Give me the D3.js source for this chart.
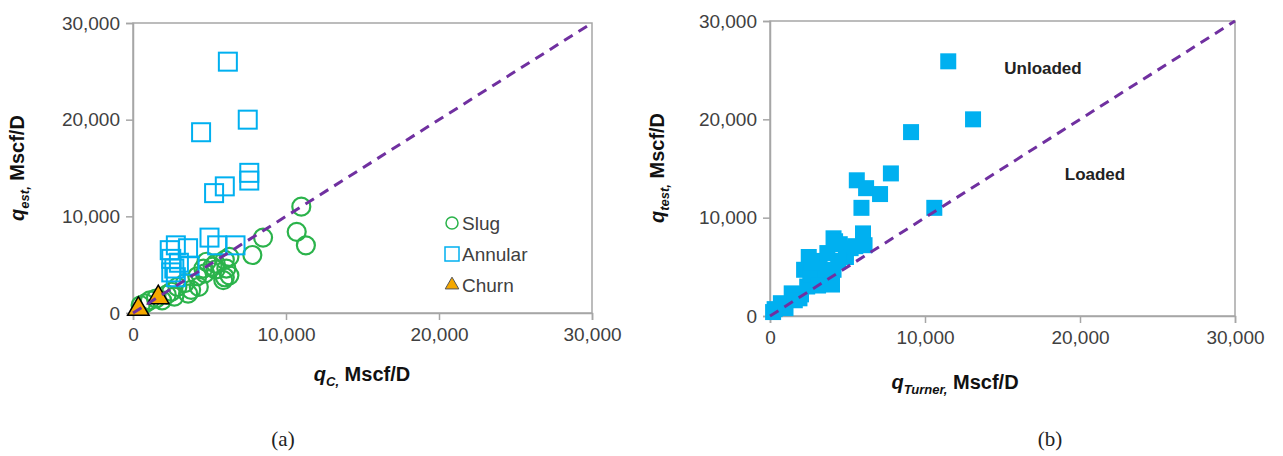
<!DOCTYPE html>
<html>
<head>
<meta charset="utf-8">
<script src="https://cdn.jsdelivr.net/npm/d3@7"></script>
<style>
  body { margin: 0; background: #fff; }
  svg text { font-family: "Liberation Sans", Arial, sans-serif; }
</style>
</head>
<body>
<div id="chart"></div>
<script>
// ---- data (Mscf/D) ----
var tickValues = [0, 10000, 20000, 30000];

// panel (a): q_C vs q_est by flow regime
var slugQc   = [11000, 10700, 11300, 8500, 7800, 6300, 6300, 5900, 6100, 6000, 5400, 4600, 4200, 3600, 3400, 2900, 2200, 1100, 500, 5400, 4800, 6000, 4300, 3800, 2700, 1900, 800, 4700, 5200, 2500, 1500];
var slugQest = [11000, 8400, 7000, 7800, 6000, 5800, 3900, 3400, 4600, 3700, 4500, 4600, 3800, 2000, 3100, 2700, 1900, 1300, 800, 5100, 5300, 5500, 2700, 2400, 1700, 1300, 1000, 4100, 4800, 2200, 1500];

var annularQc   = [6200, 4450, 7500, 7600, 7600, 6000, 5300, 2400, 2800, 3600, 2500, 2700, 3700, 2800, 2500, 5000, 5500, 6700, 3000];
var annularQest = [26000, 18700, 20000, 14500, 13700, 13100, 12400, 6500, 7000, 6700, 5600, 4600, 4900, 3700, 4200, 7800, 7000, 7000, 5200];

var churnQc   = [350, 1650];
var churnQest = [400, 1600];

// panel (b): q_Turner vs q_test
var turnerQ = [11500, 9100, 13100, 7800, 5600, 6200, 7100, 5900, 10600, 6000, 6100, 4100, 4500, 5200, 4900, 2500, 3200, 2200, 4100, 3200, 4000, 2400, 2800, 1400, 1900, 700, 200, 1000, 3000, 2600, 3600, 3100, 2000, 4200, 5500, 2700, 3700, 4400, 300, 1600];
var testQ   = [25900, 18700, 20000, 14500, 13800, 13000, 12400, 11000, 11000, 8400, 7200, 7900, 7300, 6900, 6000, 6000, 5600, 4700, 4700, 4000, 3200, 3000, 3600, 2300, 1800, 1300, 400, 800, 5000, 4200, 4400, 3100, 2200, 7600, 7100, 5400, 6400, 5600, 700, 1600];

var legendNames = ["Slug", "Annular", "Churn"];

// ---- layout ----
var width = 1283, height = 456;
var axisColor = "#a6a6a6", textColor = "#404040";
var blue = "#00b0f0", green = "#2bb34b", orange = "#f5a800", purple = "#7030a0";

var svg = d3.select("#chart").append("svg")
    .attr("width", width)
    .attr("height", height);

function zip(xs, ys) {
    return xs.map(function (x, i) { return { x: x, y: ys[i] }; });
}

function makePanel(box) {
    var g = svg.append("g");
    var x = d3.scaleLinear().domain([0, 30000]).range([box.left, box.right]);
    var y = d3.scaleLinear().domain([0, 30000]).range([box.bottom, box.top]);

    // frame
    g.append("rect")
        .attr("x", box.left).attr("y", box.top)
        .attr("width", box.right - box.left).attr("height", box.bottom - box.top)
        .attr("fill", "none").attr("stroke", axisColor).attr("stroke-width", 1.5);

    var xAxis = g.append("g")
        .attr("transform", "translate(0," + box.bottom + ")")
        .call(d3.axisBottom(x).tickValues(tickValues).tickSize(7).tickPadding(8).tickFormat(d3.format(",")));
    var yAxis = g.append("g")
        .attr("transform", "translate(" + box.left + ",0)")
        .call(d3.axisLeft(y).tickValues(tickValues).tickSize(7).tickPadding(6).tickFormat(d3.format(",")));

    [xAxis, yAxis].forEach(function (a) {
        a.select(".domain").attr("stroke", axisColor).attr("stroke-width", 1.5);
        a.selectAll(".tick line").attr("stroke", axisColor).attr("stroke-width", 1.5);
        a.selectAll(".tick text").attr("fill", textColor).style("font-size", "19px")
            .style("font-family", "Liberation Sans, Arial, sans-serif");
    });

    return { g: g, x: x, y: y };
}

function diagonal(p) {
    p.g.append("line")
        .attr("x1", p.x(0)).attr("y1", p.y(0))
        .attr("x2", p.x(30000)).attr("y2", p.y(30000))
        .attr("stroke", purple).attr("stroke-width", 3)
        .attr("stroke-dasharray", "10,7");
}

function axisTitle(g, x, y, rotate, sym, sub) {
    var t = g.append("text")
        .attr("transform", "translate(" + x + "," + y + ")" + (rotate ? " rotate(-90)" : ""))
        .attr("text-anchor", "middle")
        .attr("fill", "#111")
        .style("font-size", "20px")
        .style("font-weight", "bold");
    t.append("tspan").style("font-style", "italic").text(sym);
    t.append("tspan").style("font-style", "italic").style("font-size", "13px")
        .attr("dy", 5).text(sub + ",");
    t.append("tspan").attr("dy", -5).text(" Mscf/D");
}

// ---- panel (a) ----
var pa = makePanel({ left: 133, right: 592, top: 23, bottom: 313 });

pa.g.selectAll(".slug").data(zip(slugQc, slugQest)).enter()
    .append("circle")
    .attr("cx", function (d) { return pa.x(d.x); })
    .attr("cy", function (d) { return pa.y(d.y); })
    .attr("r", 9)
    .attr("fill", "none").attr("stroke", green).attr("stroke-width", 2.2);

pa.g.selectAll(".annular").data(zip(annularQc, annularQest)).enter()
    .append("rect")
    .attr("x", function (d) { return pa.x(d.x) - 9; })
    .attr("y", function (d) { return pa.y(d.y) - 9; })
    .attr("width", 18).attr("height", 18)
    .attr("fill", "none").attr("stroke", blue).attr("stroke-width", 2);

var tri = d3.symbol().type(d3.symbolTriangle).size(200);
pa.g.selectAll(".churn").data(zip(churnQc, churnQest)).enter()
    .append("path")
    .attr("d", tri)
    .attr("transform", function (d) { return "translate(" + pa.x(d.x) + "," + pa.y(d.y) + ")"; })
    .attr("fill", orange).attr("stroke", "#000").attr("stroke-width", 1.5);

diagonal(pa);

// legend
var leg = pa.g.append("g").attr("transform", "translate(452,223)");
legendNames.forEach(function (name, i) {
    var row = leg.append("g").attr("transform", "translate(0," + (i * 31) + ")");
    if (i === 0) {
        row.append("circle").attr("r", 6).attr("fill", "none").attr("stroke", green).attr("stroke-width", 1.5);
    } else if (i === 1) {
        row.append("rect").attr("x", -7).attr("y", -7).attr("width", 14).attr("height", 14)
            .attr("fill", "none").attr("stroke", blue).attr("stroke-width", 1.5);
    } else {
        row.append("path").attr("d", d3.symbol().type(d3.symbolTriangle).size(80))
            .attr("fill", orange).attr("stroke", "#555").attr("stroke-width", 1);
    }
    row.append("text").attr("x", 10).attr("dy", "0.35em")
        .attr("fill", textColor).style("font-size", "19px").text(name);
});

axisTitle(pa.g, 362, 381, false, "q", "C");
axisTitle(pa.g, 24, 168, true, "q", "est");

svg.append("text").attr("x", 283).attr("y", 446).attr("text-anchor", "middle")
    .style("font-family", "Liberation Serif, Times New Roman, serif")
    .style("font-size", "21px").attr("fill", "#222").text("(a)");

// ---- panel (b) ----
var pb = makePanel({ left: 770, right: 1235, top: 21, bottom: 316 });

pb.g.selectAll(".turner").data(zip(turnerQ, testQ)).enter()
    .append("rect")
    .attr("x", function (d) { return pb.x(d.x) - 8; })
    .attr("y", function (d) { return pb.y(d.y) - 8; })
    .attr("width", 16).attr("height", 16)
    .attr("fill", blue);

diagonal(pb);

pb.g.append("text").attr("x", 1043).attr("y", 74).attr("text-anchor", "middle")
    .attr("fill", "#222").style("font-size", "17px").style("font-weight", "bold").text("Unloaded");
pb.g.append("text").attr("x", 1095).attr("y", 180).attr("text-anchor", "middle")
    .attr("fill", "#222").style("font-size", "17px").style("font-weight", "bold").text("Loaded");

axisTitle(pb.g, 955, 389, false, "q", "Turner");
axisTitle(pb.g, 664, 168, true, "q", "test");

svg.append("text").attr("x", 1050).attr("y", 446).attr("text-anchor", "middle")
    .style("font-family", "Liberation Serif, Times New Roman, serif")
    .style("font-size", "21px").attr("fill", "#222").text("(b)");
</script>
</body>
</html>
